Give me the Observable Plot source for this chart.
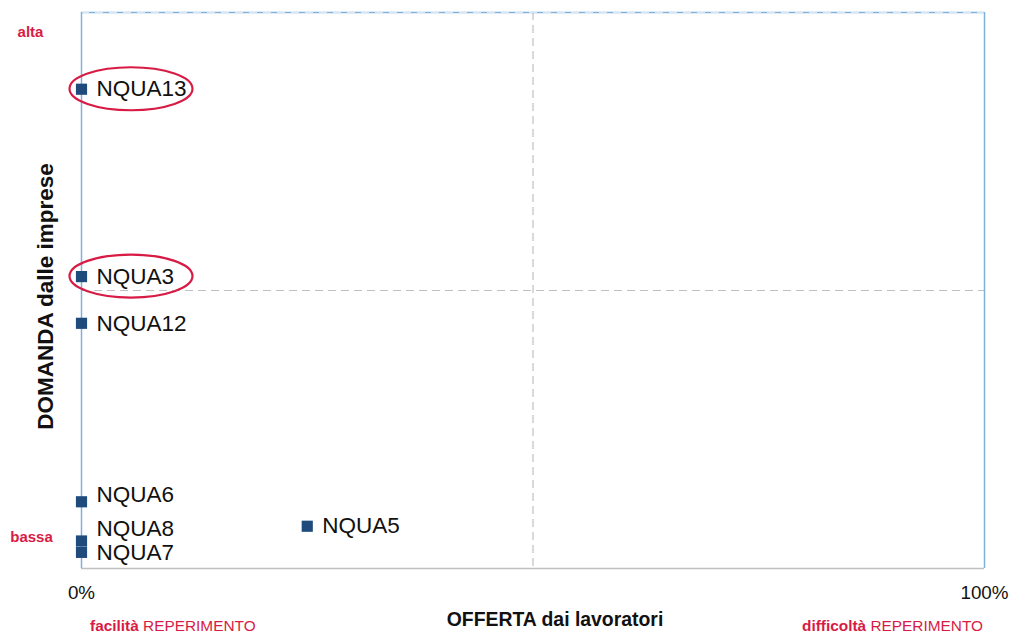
<!DOCTYPE html>
<html>
<head>
<meta charset="utf-8">
<script src="https://cdn.jsdelivr.net/npm/d3@7"></script>
<script src="https://cdn.jsdelivr.net/npm/@observablehq/plot@0.6"></script>
<style>
  html, body { margin: 0; padding: 0; background: #fff; }
  #chart { width: 1022px; height: 635px; }
  svg { font-family: "Liberation Sans", Arial, sans-serif; }
</style>
</head>
<body>
<div id="chart"></div>
<script>
// Data
const names = ["NQUA13", "NQUA3", "NQUA12", "NQUA6", "NQUA8", "NQUA7", "NQUA5"];
const offerta = [0, 0, 0, 0, 0, 0, 0.25];          // x: OFFERTA dai lavoratori (0..1)
const domanda = [0.862, 0.525, 0.441, 0.12, 0.0495, 0.029, 0.076]; // y: DOMANDA dalle imprese (0..1)
const highlighted = ["NQUA13", "NQUA3"];
const xTicks = [0, 1];
const midX = [0.5];
const midY = [0.5];

const points = names.map((n, i) => ({ name: n, x: offerta[i], y: domanda[i] }));
const ringed = points.filter(d => highlighted.includes(d.name));

const RED = "#d81b44";
const BLUE = "#1f4a7c";
const FRAME = "#7fb0dc";
const GRID = "#c0c0c0";

// label vertical nudges (px), to avoid overlapping labels as in the original
const labelDy = { NQUA6: -7, NQUA8: -12 };
const nudges = [...new Set(points.map(d => labelDy[d.name] || 0))];

const ellipses = (index, scales) => {
  const g = d3.create("svg:g");
  for (const d of ringed) {
    g.append("ellipse")
      .attr("cx", scales.x(d.x) + 50)
      .attr("cy", scales.y(d.y))
      .attr("rx", 61.5)
      .attr("ry", 21.5)
      .attr("fill", "none")
      .attr("stroke", RED)
      .attr("stroke-width", 2.2);
  }
  return g.node();
};

const chart = Plot.plot({
  width: 1022,
  height: 635,
  marginLeft: 81,
  marginRight: 38,
  marginTop: 12,
  marginBottom: 67,
  style: { fontFamily: "'Liberation Sans', Arial, sans-serif", background: "#fff" },
  x: { domain: [0, 1], axis: null },
  y: { domain: [0, 1], axis: null },
  marks: [
    // dashed quadrant lines
    Plot.ruleX(midX, { stroke: GRID, strokeWidth: 1.2, strokeDasharray: "8,5" }),
    Plot.ruleY(midY, { stroke: GRID, strokeWidth: 1.2, strokeDasharray: "8,5" }),
    // frame
    Plot.ruleY([0], { stroke: GRID, strokeWidth: 1.5 }),
    Plot.ruleY([1], { stroke: FRAME, strokeWidth: 1.5 }),
    Plot.ruleY([1], { stroke: "#d8e6f2", strokeWidth: 1, strokeDasharray: "8,6" }),
    Plot.ruleX([0], { stroke: FRAME, strokeWidth: 1.5 }),
    Plot.ruleX([1], { stroke: FRAME, strokeWidth: 1.5 }),
    // x ticks
    Plot.text(xTicks, {
      x: d => d, frameAnchor: "bottom", dy: 30,
      text: d => d3.format(".0%")(d), fontSize: 18.8, fill: "#111"
    }),
    // points
    Plot.dot(points, { x: "x", y: "y", symbol: "square", r: 6.3, fill: BLUE, stroke: "none" }),
    ...nudges.map(n => Plot.text(points.filter(d => (labelDy[d.name] || 0) === n), {
      x: "x", y: "y", text: "name", textAnchor: "start", dx: 15, dy: n,
      fontSize: 22.5, fill: "#111"
    })),
    ellipses,
    // y axis label
    Plot.text(["DOMANDA dalle imprese"], {
      frameAnchor: "left", textAnchor: "middle", dx: -36, dy: 6, rotate: -90,
      fontSize: 22.5, fontWeight: "bold", fill: "#111"
    }),
    // x axis label
    Plot.text(["OFFERTA dai lavoratori"], {
      frameAnchor: "bottom", dx: 22, dy: 57, fontSize: 19.4, fontWeight: "bold", fill: "#111"
    }),
    // alta / bassa
    Plot.text(["alta"], { frameAnchor: "top-left", textAnchor: "middle", dx: -51, dy: 14, fontSize: 15, fontWeight: "bold", fill: RED }),
    Plot.text(["bassa"], { frameAnchor: "bottom-left", textAnchor: "middle", dx: -50, dy: -27, fontSize: 15, fontWeight: "bold", fill: RED })
  ]
});

document.getElementById("chart").appendChild(chart);

const svg = d3.select(chart);

// Two-tone bottom captions as real text, positioned with the x scale
const xs = chart.scale("x");
const capY = 631;
const cap1 = svg.append("text").attr("x", xs.apply(0) + 9).attr("y", capY)
  .attr("font-size", 15.4).attr("fill", RED).attr("text-anchor", "start");
cap1.append("tspan").attr("font-weight", "bold").text("facilità");
cap1.append("tspan").text(" REPERIMENTO");
const cap2 = svg.append("text").attr("x", xs.apply(1) - 1).attr("y", capY)
  .attr("font-size", 15.4).attr("fill", RED).attr("text-anchor", "end");
cap2.append("tspan").attr("font-weight", "bold").text("difficoltà");
cap2.append("tspan").text(" REPERIMENTO");
</script>
</body>
</html>
